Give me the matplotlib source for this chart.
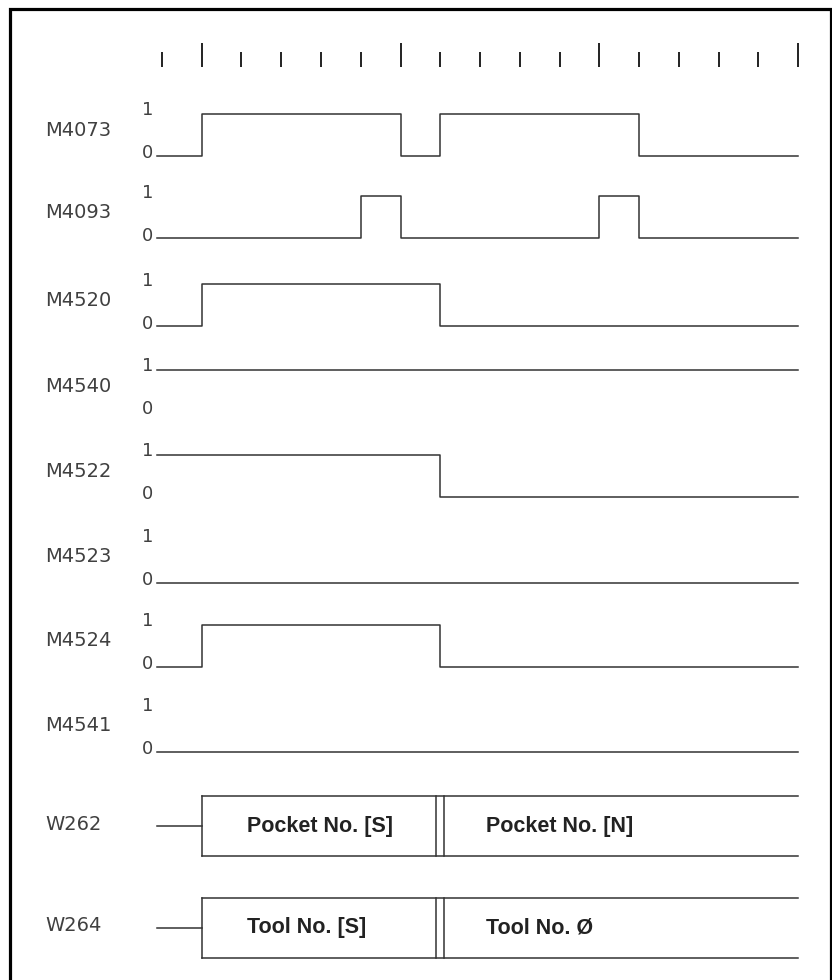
import matplotlib.pyplot as plt
import numpy as np

# signal rows: name, level before first edge, edge times (in tick units)
signal_names = ["M4073", "M4093", "M4520", "M4540", "M4522", "M4523", "M4524", "M4541"]
signal_start = [0, 0, 0, 1, 1, 0, 0, 0]
signal_edges = [
    [1, 6, 7, 12],
    [5, 6, 11, 12],
    [1, 7],
    [],
    [7],
    [],
    [1, 7],
    [],
]

# word rows: name, segment boundaries, segment texts
word_names = ["W262", "W264"]
word_bounds = [1, 7, 16]
word_texts = [
    ["Pocket No. [S]", "Pocket No. [N]"],
    ["Tool No. [S]", "Tool No. Ø"],
]

tick_times = np.arange(0, 17)
major_ticks = [1, 6, 11, 16]
t_begin, t_end = -0.13, 16

# layout (pixel rows, time axis scaled so t=0 sits at x=162)
W, H = 832, 980
X0, DX = 162.0, 39.75
row_low = [156, 238.5, 326.5, 412, 497, 582.7, 666.7, 751.7]
amp = 42
word_mid = [826, 927.5]
box_half = 30

LINE = "#333333"
TXT = "#404040"


def px_to_t(x):
    return (x - X0) / DX


fig = plt.figure(figsize=(W / 100, H / 100), dpi=100)
ax = fig.add_axes([0, 0, 1, 1])
ax.set_xlim(px_to_t(0), px_to_t(W))
ax.set_ylim(H, 0)
ax.axis("off")

# frame (bottom edge is outside the picture)
ax.plot([9.5 / W, 9.5 / W, 830.5 / W, 830.5 / W], [0, 1 - 9 / H, 1 - 9 / H, 0],
        transform=ax.transAxes, color="black", lw=2.3, solid_joinstyle="miter",
        clip_on=False)

# time ticks
for t in tick_times:
    top = 43 if t in major_ticks else 52
    ax.plot([t, t], [67, top], color="#222222", lw=1.4, solid_capstyle="butt")

label_font = dict(family="DejaVu Sans", fontsize=14, color=TXT)

for i, name in enumerate(signal_names):
    lo = row_low[i]
    xs = [t_begin] + signal_edges[i] + [t_end]
    lev = [signal_start[i]]
    for _ in signal_edges[i]:
        lev.append(1 - lev[-1])
    lev.append(lev[-1])
    ys = [lo - amp * v for v in lev]
    ax.step(xs, ys, where="post", color=LINE, lw=1.1)

    ax.text(px_to_t(45), lo - 26, name, ha="left", va="center", **label_font)
    ax.text(px_to_t(153), lo - amp - 4, "1", ha="right", va="center",
            family="DejaVu Sans", fontsize=13, color=TXT)
    ax.text(px_to_t(153), lo - 3, "0", ha="right", va="center",
            family="DejaVu Sans", fontsize=13, color=TXT)

bold_font = dict(family=["Liberation Sans", "DejaVu Sans"], fontsize=15.5,
                 fontweight="bold", color="#222222")
gap = 0.095

for i, name in enumerate(word_names):
    mid = word_mid[i]
    top, bot = mid - box_half, mid + box_half
    ax.text(px_to_t(45), mid - 2, name, ha="left", va="center", **label_font)
    ax.plot([t_begin, word_bounds[0]], [mid, mid], color=LINE, lw=1.1)
    ax.plot([word_bounds[0], word_bounds[-1]], [top, top], color=LINE, lw=1.1)
    ax.plot([word_bounds[0], word_bounds[-1]], [bot, bot], color=LINE, lw=1.1)
    ax.plot([word_bounds[0], word_bounds[0]], [top, bot], color=LINE, lw=1.1)
    for b in word_bounds[1:-1]:
        ax.plot([b - gap, b - gap], [top, bot], color=LINE, lw=1.1)
        ax.plot([b + gap, b + gap], [top, bot], color=LINE, lw=1.1)
    for j, txt in enumerate(word_texts[i]):
        ax.text(word_bounds[j] + 1.15, mid, txt, ha="left", va="center", **bold_font)

fig.savefig("out.png", dpi=100)
